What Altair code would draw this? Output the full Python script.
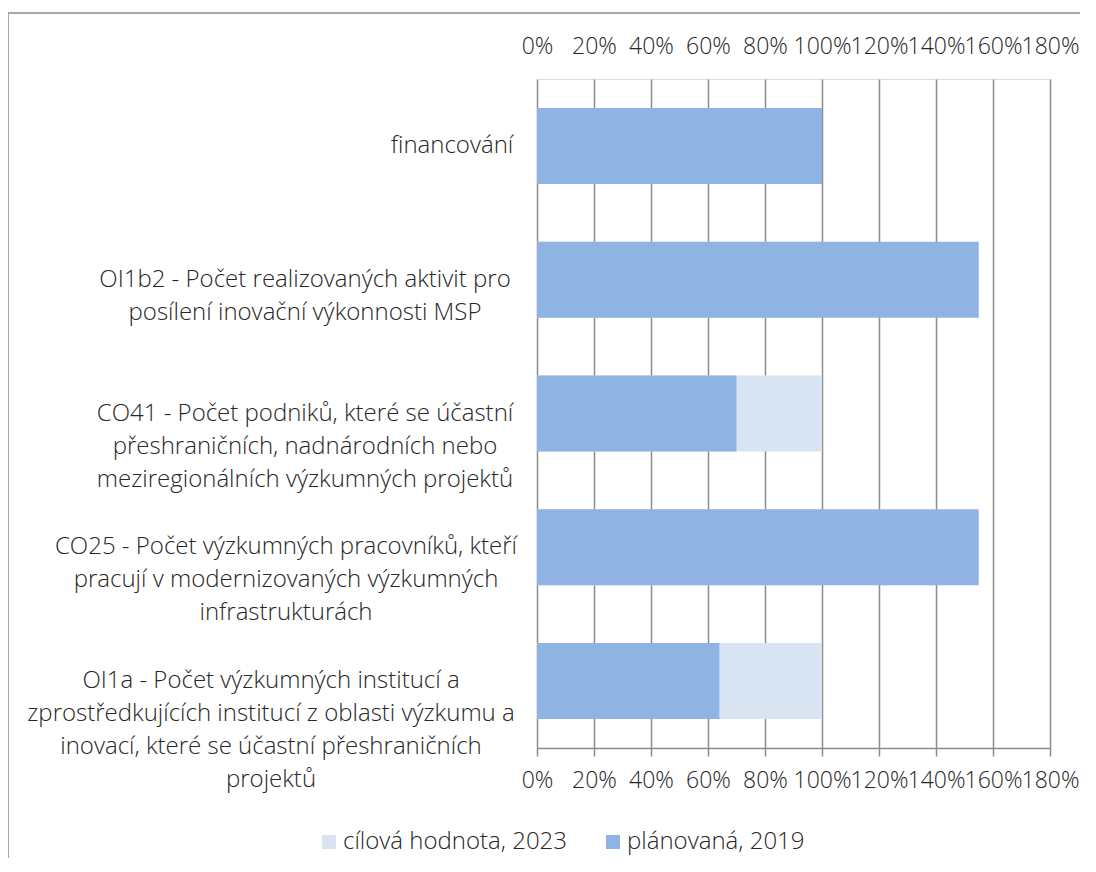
import altair as alt
import pandas as pd

# ---------------- data ----------------
categories = [
    "financování",
    "OI1b2 - Počet realizovaných aktivit pro\nposílení inovační výkonnosti MSP",
    "CO41 - Počet podniků, které se účastní\npřeshraničních, nadnárodních nebo\nmeziregionálních výzkumných projektů",
    "CO25 - Počet výzkumných pracovníků, kteří\npracují v modernizovaných výzkumných\ninfrastrukturách",
    "OI1a - Počet výzkumných institucí a\nzprostředkujících institucí z oblasti výzkumu a\ninovací, které se účastní přeshraničních\nprojektů",
]
series = ["cílová hodnota, 2023", "plánovaná, 2019"]
target_2023 = [100, 100, 100, 100, 100]
planned_2019 = [100, 155, 70, 155, 64]
x_ticks = [0, 20, 40, 60, 80, 100, 120, 140, 160, 180]

# ---------------- styles / layout ----------------
colors = ["#D9E4F3", "#8FB4E3"]
grid_color = "#8C8C8C"
text_color = "#262626"
FONT = "Open Sans"
FS = 24
TICK_FS = 23
PLOT_W, PLOT_H = 513, 669
PAD_L, PAD_T = 529, 71
# horizontal centre of each (centre-aligned) category label block, px from plot left
label_centres = [-85, -232, -232, -251, -266]

rows = []
for c, t in zip(categories, target_2023):
    rows.append({"cat": c, "series": series[0], "value": t})
for c, p in zip(categories, planned_2019):
    rows.append({"cat": c, "series": series[1], "value": p})
df = pd.DataFrame(rows)
lab_df = pd.DataFrame({"cat": categories, "idx": list(range(len(categories)))})

xscale = alt.Scale(domain=[0, 180], nice=False, zero=True)
yscale = alt.Scale(paddingInner=0.432, paddingOuter=0.216)

bars = alt.Chart(df).mark_bar().encode(
    x=alt.X("value:Q", scale=xscale, stack=None,
            axis=alt.Axis(orient="bottom", values=x_ticks, title=None,
                          labelExpr="datum.value + '%'", labelOverlap=False,
                          labelFlush=False, labelBound=False,
                          grid=True, gridColor=grid_color, gridWidth=1.5,
                          domainColor=grid_color, domainWidth=1.5,
                          tickColor=grid_color, tickWidth=1.5, tickSize=8,
                          labelPadding=13, labelFont=FONT, labelFontSize=TICK_FS,
                          labelColor=text_color, labelFontWeight=300)),
    y=alt.Y("cat:N", sort=categories, scale=yscale, axis=None),
    color=alt.Color("series:N", scale=alt.Scale(domain=series, range=colors),
                    sort=series,
                    legend=alt.Legend(title=None, orient="none", direction="horizontal",
                                      legendX=-220, legendY=751,
                                      symbolType="square", symbolSize=196,
                                      symbolStrokeWidth=0, columnPadding=33,
                                      labelOffset=2, labelFont=FONT, labelFontSize=FS,
                                      labelLimit=0,
                                      labelFontWeight=300, labelColor=text_color)),
    order=alt.Order("series:N", sort="ascending"),
)

top_axis = alt.Chart(df).mark_bar(opacity=0).encode(
    x=alt.X("value:Q", scale=xscale, stack=None,
            axis=alt.Axis(orient="top", values=x_ticks, title=None,
                          labelExpr="datum.value + '%'", labelOverlap=False,
                          labelFlush=False, labelBound=False,
                          grid=False, domain=False, ticks=False,
                          labelPadding=21, labelFont=FONT, labelFontSize=TICK_FS,
                          labelColor=text_color, labelFontWeight=300)),
    y=alt.Y("cat:N", sort=categories, scale=yscale, axis=None),
)

centre_expr = "[" + ",".join(str(v) for v in label_centres) + "][datum.idx]"
labels = alt.Chart(lab_df).mark_text(
    align="center", baseline="middle", lineBreak="\n", lineHeight=33,
    font=FONT, fontSize=FS, fontWeight=300, color=text_color,
).encode(
    x=alt.value({"expr": centre_expr}),
    y=alt.Y("cat:N", sort=categories, scale=yscale, axis=None),
    text="cat:N",
)

frame = alt.Chart(pd.DataFrame({"a": [0]})).mark_rect(
    fill=None, stroke=grid_color, strokeWidth=1.5
).encode(
    x=alt.value(-529), x2=alt.value(563), y=alt.value(-66), y2=alt.value(801)
)

chart = alt.layer(frame, bars, top_axis, labels).resolve_axis(x="independent").properties(
    width=PLOT_W, height=PLOT_H,
    autosize=alt.AutoSizeParams(type="none"),
    padding={"left": PAD_L, "top": PAD_T, "right": 30, "bottom": 110},
).configure_view(stroke=None).configure(font=FONT)

chart.save("out.html", embed_options={"renderer": "svg", "actions": False})
